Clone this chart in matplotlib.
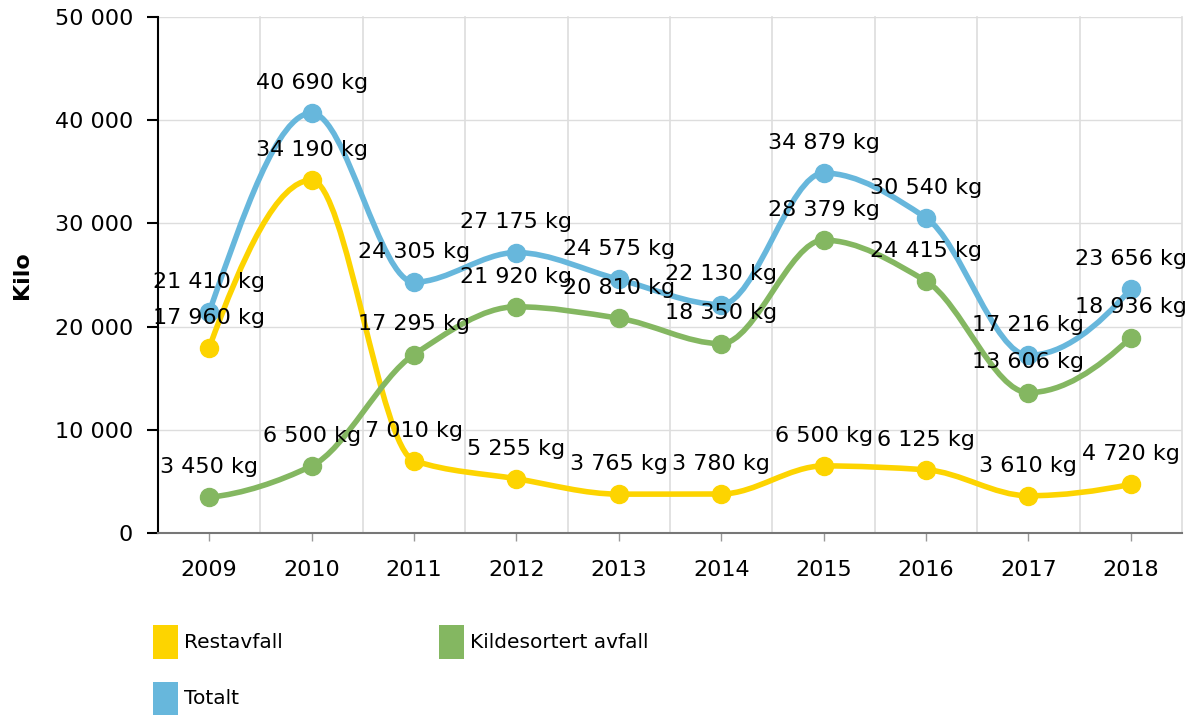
import numpy as np
import matplotlib
matplotlib.use("Agg")
import matplotlib.pyplot as plt
from matplotlib.path import Path
from matplotlib.patches import PathPatch, Rectangle
from matplotlib.ticker import FuncFormatter, MultipleLocator

# ---------------------------------------------------------------------
# Data (kg per year)
# ---------------------------------------------------------------------
years = ["2009", "2010", "2011", "2012", "2013", "2014", "2015", "2016", "2017", "2018"]
restavfall = [17960, 34190, 7010, 5255, 3765, 3780, 6500, 6125, 3610, 4720]
kildesortert = [3450, 6500, 17295, 21920, 20810, 18350, 28379, 24415, 13606, 18936]
totalt = [21410, 40690, 24305, 27175, 24575, 22130, 34879, 30540, 17216, 23656]

series = [
    ("Restavfall", restavfall, "#FDD400"),
    ("Kildesortert avfall", kildesortert, "#84B761"),
    ("Totalt", totalt, "#67B7DC"),
]

W, H = 1198, 715


def fmt_num(v):
    return f"{v:,.0f}".replace(",", " ")


def end_slope(d0, d1):
    m = 1.25 * d0 - 0.25 * d1
    if np.sign(m) != np.sign(d0):
        return 0.0
    return m


def pchip_slopes(y):
    """Monotone (Fritsch-Carlson) tangents for evenly spaced points."""
    y = np.asarray(y, dtype=float)
    d = np.diff(y)
    m = np.zeros_like(y)
    for i in range(1, len(y) - 1):
        if d[i - 1] * d[i] > 0:
            m[i] = 2.0 / (1.0 / d[i - 1] + 1.0 / d[i])
    m[0] = end_slope(d[0], d[1])
    m[-1] = end_slope(d[-1], d[-2])
    return m


def smooth_path(x, y):
    """Hermite segments written as cubic Bezier pieces."""
    m = pchip_slopes(y)
    verts = [(x[0], y[0])]
    codes = [Path.MOVETO]
    for i in range(len(x) - 1):
        h = x[i + 1] - x[i]
        verts += [(x[i] + h / 3, y[i] + m[i] * h / 3),
                  (x[i + 1] - h / 3, y[i + 1] - m[i + 1] * h / 3),
                  (x[i + 1], y[i + 1])]
        codes += [Path.CURVE4] * 3
    return Path(verts, codes)


fig = plt.figure(figsize=(W / 100, H / 100), dpi=100)
ax = fig.add_axes([158 / W, 1 - 533 / H, (1182 - 158) / W, (533 - 17) / H])

x = np.arange(len(years))

for name, vals, color in series:
    ax.add_patch(PathPatch(smooth_path(x, vals), facecolor="none",
                           edgecolor=color, linewidth=4, zorder=3,
                           capstyle="round", joinstyle="round"))
    ax.plot(x, vals, linestyle="none", marker="o", markersize=13,
            color=color, zorder=4)

for name, vals, color in series:
    for xi, v in zip(x, vals):
        ax.annotate(fmt_num(v) + " kg", (xi, v), xytext=(0, 14.5),
                    textcoords="offset points", ha="center", va="bottom",
                    fontsize=16, color="#000000", zorder=6)

ax.set_xlim(-0.5, len(years) - 0.5)
ax.set_ylim(0, 50000)
ax.yaxis.set_major_locator(MultipleLocator(10000))
ax.yaxis.set_major_formatter(FuncFormatter(lambda v, p: fmt_num(v)))
ax.set_xticks(x)
ax.set_xticklabels(years)

# grid: horizontal at ticks, vertical between categories and at the right edge
ax.grid(axis="y", color="#DDDDDD", linewidth=1, zorder=0)
for b in np.arange(0.5, len(years), 1.0):
    ax.axvline(b, color="#DDDDDD", linewidth=1.2, zorder=0, clip_on=False)

for side in ["top", "right"]:
    ax.spines[side].set_visible(False)
ax.spines["left"].set_color("#000000")
ax.spines["left"].set_linewidth(1.5)
ax.spines["bottom"].set_color("#777777")
ax.spines["bottom"].set_linewidth(1.5)
ax.spines["left"].set_zorder(5)
ax.spines["bottom"].set_zorder(5)

ax.tick_params(axis="y", length=8, width=1.5, color="#000000", pad=10,
               labelsize=16, labelcolor="#000000")
ax.tick_params(axis="x", length=6, width=1, color="#999999", pad=13.5,
               labelsize=16, labelcolor="#000000")

fig.text(22 / W, 1 - 275 / H, "Kilo", rotation=90, ha="center", va="center",
         fontsize=16, fontweight="bold", color="#000000")

# ---------------------------------------------------------------------
# Legend (drawn by hand to match the two-column layout)
# ---------------------------------------------------------------------
legend_pos = [(153, 642), (439, 642), (153, 699)]
for (px, py), (name, vals, color) in zip(legend_pos, series):
    fig.add_artist(Rectangle((px / W, 1 - (py + 17) / H), 25 / W, 34 / H,
                             transform=fig.transFigure, facecolor=color,
                             edgecolor="none"))
    fig.text((px + 31) / W, 1 - py / H, name, ha="left", va="center",
             fontsize=14.5, color="#000000")

fig.savefig("out.png", dpi=100, facecolor="white")
